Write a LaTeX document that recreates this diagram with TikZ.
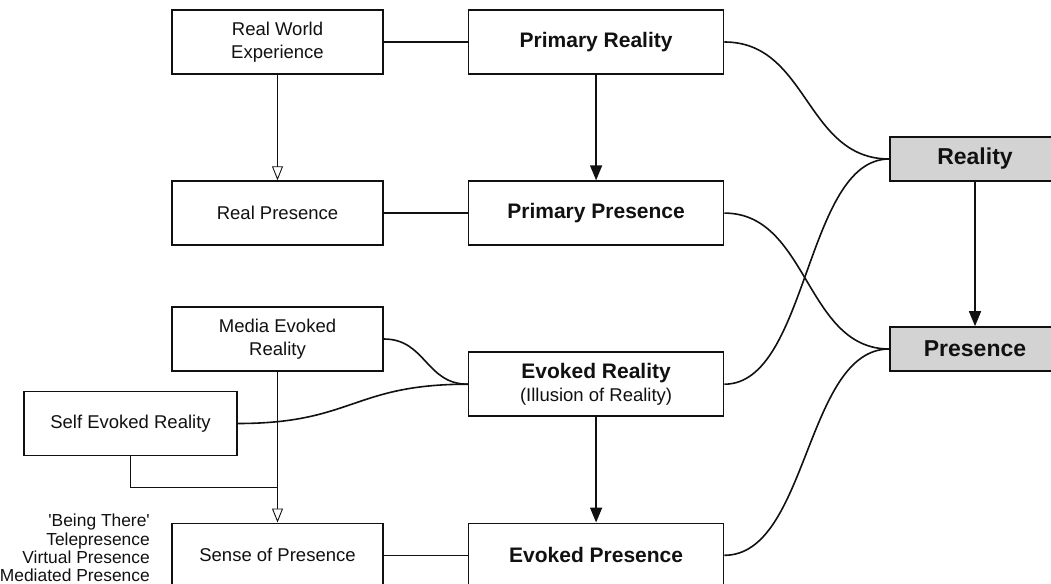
\documentclass[tikz,border=0pt]{standalone}
\usepackage{fontspec}
\setmainfont{Liberation Sans}
\usepackage{tikz}
\usetikzlibrary{arrows.meta,positioning}
\definecolor{PRInk}{HTML}{111111}
\definecolor{PRGray}{HTML}{D3D3D3}
\tikzset{
  prBox/.style={
    rectangle, draw=PRInk, fill=white, line width=1.6pt,
    align=center, text=PRInk, minimum width=#1, minimum height=64pt,
    inner sep=2pt, font=\fontsize{18.5}{23}\selectfont
  },
  prBox/.default=211pt,
  prMain/.style={prBox=255pt, font=\fontsize{21}{23}\selectfont\bfseries},
  prKey/.style={
    rectangle, draw=PRInk, fill=PRGray, line width=1.6pt, text=PRInk,
    minimum width=170pt, minimum height=44pt, font=\fontsize{23}{26}\selectfont\bfseries
  },
  prNote/.style={align=right, inner sep=0pt, text=PRInk, font=\fontsize{17.4}{18.4}\selectfont},
  prLink/.style={draw=PRInk, line width=1.6pt},
  prThin/.style={draw=PRInk, line width=0.9pt},
  prArrow/.style={-{Triangle[length=15pt, width=12pt]}, draw=PRInk, line width=1.6pt},
  prOpen/.style={-{Triangle[open, length=14pt, width=11pt]}, draw=PRInk, line width=0.9pt}
}
\begin{document}
\begin{tikzpicture}[x=1pt, y=-1pt, node distance=105.5pt and 84pt]
  \useasboundingbox (0,0) rectangle (1051,583);
  \node[prBox] (rwe) at (277.5,42) {Real World\\Experience};
  \node[prMain, right=of rwe] (prr) {Primary Reality};
  \node[prBox, below=of rwe] (rp) {Real Presence};
  \node[prMain, right=of rp] (prp) {Primary Presence};
  \node[prMain, below=of prp] (evr) {Evoked Reality\\{\fontsize{18.5}{23}\selectfont\mdseries (Illusion of Reality)}};
  \node[prMain, below=of evr] (evp) {Evoked Presence};
  \node[prBox, left=of evp] (sop) {Sense of Presence};
  \node[prBox] (mer) at (277.5,339) {Media Evoked\\Reality};
  \node[prBox=213pt] (ser) at (130.5,423.5) {Self Evoked Reality};
  \node[prKey] (rea) at (975,159) {Reality};
  \node[prKey] (pre) at (975,349) {Presence};
  \node[prNote, anchor=east] (alias) at (150,548) {\textquotesingle Being There\textquotesingle\\Telepresence\\Virtual Presence\\Mediated Presence};
  \coordinate (jn) at (277.5,487);

  \draw[prLink] (rwe) -- (prr);
  \draw[prLink] (rp) -- (prp);
  \draw[prLink] (sop) -- (evp);
  \draw[prArrow] (prr) -- (prp);
  \draw[prArrow] (evr) -- (evp);
  \draw[prArrow] (rea) -- (pre);
  \draw[prOpen] (rwe) -- (rp);
  \draw[prOpen] (mer) -- (sop);
  \draw[prThin] (ser.south) |- (jn);

  \draw[prLink] (mer.east) .. controls +(42,0) and +(-42,0) .. (evr.west);
  \draw[prLink] (ser.east) .. controls +(115,0) and +(-115,0) .. (evr.west);
  \draw[prLink] (prr.east) .. controls +(84,0) and +(-84,0) .. (rea.west);
  \draw[prLink] (evr.east) .. controls +(84,0) and +(-84,0) .. (rea.west);
  \draw[prLink] (prp.east) .. controls +(84,0) and +(-84,0) .. (pre.west);
  \draw[prLink] (evp.east) .. controls +(84,0) and +(-84,0) .. (pre.west);
\end{tikzpicture}
\end{document}
